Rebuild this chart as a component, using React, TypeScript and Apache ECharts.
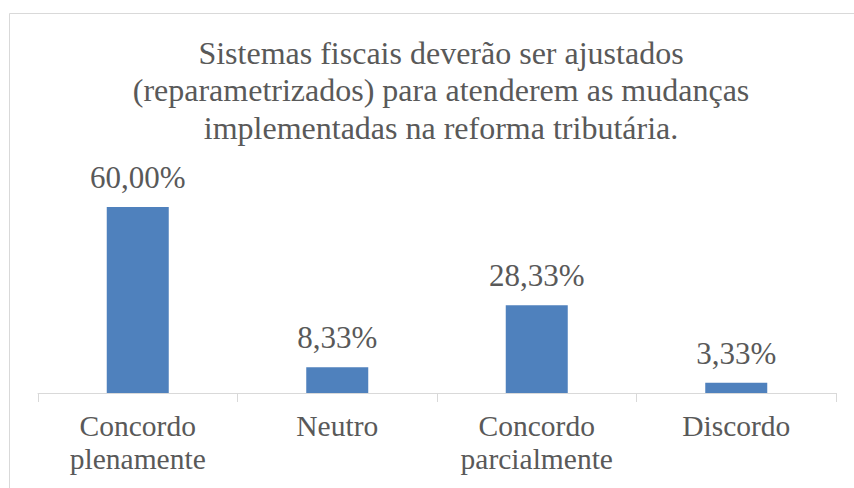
import React, { useEffect, useRef } from "react";
import * as echarts from "echarts";

const titleText =
  "Sistemas fiscais deverão ser ajustados\n(reparametrizados) para atenderem as mudanças\nimplementadas na reforma tributária.";
const categories = ["Concordo\nplenamente", "Neutro", "Concordo\nparcialmente", "Discordo"];
const values = [60.0, 8.33, 28.33, 3.33];

const FONT = "Liberation Serif";
const TEXT = "#595959";

export default function App() {
  const ref = useRef<HTMLDivElement>(null);
  useEffect(() => {
    if (!ref.current) return;
    const chart = echarts.init(ref.current, undefined, { renderer: "svg" });
    chart.setOption({
      animation: false,
      backgroundColor: "#ffffff",
      title: {
        text: titleText,
        left: 436,
        top: 29,
        textAlign: "center",
        textStyle: {
          fontFamily: FONT,
          fontSize: 32,
          fontWeight: "normal",
          color: TEXT,
          lineHeight: 37.5,
        },
      },
      graphic: [
        {
          type: "rect",
          shape: { x: 9.5, y: 13.5, width: 1000, height: 800 },
          style: { fill: "none", stroke: "#d9d9d9", lineWidth: 1 },
          silent: true,
          z: -1,
        },
      ],
      grid: { left: 38, right: 18, top: 176, bottom: 95, containLabel: false },
      xAxis: {
        type: "category",
        data: categories,
        axisLine: { lineStyle: { color: "#d9d9d9", width: 1 } },
        axisTick: { show: true, length: 9, lineStyle: { color: "#d9d9d9" } },
        axisLabel: {
          fontFamily: FONT,
          fontSize: 29.5,
          color: TEXT,
          lineHeight: 33,
          margin: 16,
          interval: 0,
        },
      },
      yAxis: {
        type: "value",
        min: 0,
        max: 70,
        show: false,
        splitLine: { show: false },
      },
      series: [
        {
          type: "bar",
          data: values,
          barWidth: 62,
          itemStyle: { color: "#4f81bd" },
          label: {
            show: true,
            position: "top",
            distance: 14,
            fontFamily: FONT,
            fontSize: 31,
            color: TEXT,
            formatter: (p: any) => p.value.toFixed(2).replace(".", ",") + "%",
          },
        },
      ],
    });
    return () => chart.dispose();
  }, []);
  return <div ref={ref} style={{ width: 854, height: 488, position: "absolute", left: 0, top: 0 }} />;
}
